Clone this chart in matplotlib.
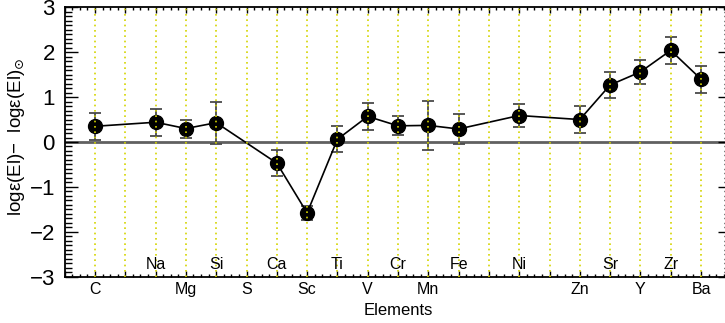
import matplotlib
matplotlib.use("Agg")
import matplotlib.pyplot as plt
import numpy as np

plt.rcParams['font.family'] = ['Liberation Sans', 'DejaVu Sans']
plt.rcParams['mathtext.fontset'] = 'dejavusans'

# Element slots along the x axis (integer positions, some slots left empty)
elements = ["C", "Na", "Mg", "Si", "S", "Ca", "Sc", "Ti", "V", "Cr", "Mn",
            "Fe", "Ni", "Zn", "Sr", "Y", "Zr", "Ba"]
positions = [1, 3, 4, 5, 6, 7, 8, 9, 10, 11, 12, 13, 15, 17, 18, 19, 20, 21]
# Labels drawn inside the frame (upper row) vs. as tick labels (lower row)
upper_row = ["Na", "Si", "Ca", "Ti", "Cr", "Fe", "Ni", "Sr", "Zr"]

# Measured abundance offsets relative to solar; S has no measurement
abund_elements = ["C", "Na", "Mg", "Si", "Ca", "Sc", "Ti", "V", "Cr", "Mn",
                  "Fe", "Ni", "Zn", "Sr", "Y", "Zr", "Ba"]
abundance = [0.35, 0.44, 0.30, 0.43, -0.47, -1.58, 0.06, 0.57, 0.36, 0.37,
             0.29, 0.59, 0.50, 1.27, 1.56, 2.04, 1.40]
error = [0.30, 0.30, 0.20, 0.47, 0.29, 0.16, 0.29, 0.30, 0.21, 0.54,
         0.33, 0.25, 0.30, 0.30, 0.27, 0.30, 0.30]

x_max = 22
y_min, y_max = -3, 3

fig = plt.figure(figsize=(7.25, 3.23), dpi=100)
ax = fig.add_axes([64.7 / 725, 46.3 / 323, 666.6 / 725, 269.4 / 323])
ax.set_xlim(0, x_max)
ax.set_ylim(y_min, y_max)

pos_of = dict(zip(elements, positions))
xs = np.array([pos_of[e] for e in abund_elements], dtype=float)
ys = np.array(abundance)
errs = np.array(error)

# zero reference line
ax.axhline(0, color='#606060', lw=2.0, zorder=1)

# error bars, connecting line and markers
ax.errorbar(xs, ys, yerr=errs, fmt='none', ecolor='#4a4a4a', elinewidth=1.3,
            capsize=4.5, capthick=1.3, zorder=2)
ax.plot(xs, ys, color='black', lw=1.2, zorder=3)
ax.plot(xs, ys, 'o', color='black', ms=10, zorder=4)

# dotted yellow guide lines at every slot, drawn above the markers
for gx in range(1, x_max):
    ax.axvline(gx, color='#d4d400', lw=1.2, ls=(0, (1, 2.2)), zorder=5)

# ticks
ax.set_xticks(np.arange(0, x_max + 1, 1))
ax.set_xticks(np.arange(0, x_max + 0.01, 0.25), minor=True)
lower_labels = {}
for e, p in zip(elements, positions):
    if e not in upper_row:
        lower_labels[p] = e
ax.set_xticklabels([lower_labels.get(int(t), "") for t in np.arange(0, x_max + 1, 1)])

ax.set_yticks(np.arange(y_min, y_max + 1, 1))
ax.set_yticks(np.arange(y_min, y_max + 0.01, 0.1), minor=True)

ax.tick_params(axis='both', which='both', direction='in', top=True, right=True,
               width=1.0, color='black')
ax.tick_params(axis='x', which='major', length=4.5, pad=4, labelsize=11.5)
ax.tick_params(axis='x', which='minor', length=2.5)
ax.tick_params(axis='y', which='major', length=9.5, pad=7, labelsize=16)
ax.tick_params(axis='y', which='minor', length=5)

for sp in ax.spines.values():
    sp.set_linewidth(1.3)

# upper-row element names just above the bottom frame
for e, p in zip(elements, positions):
    if e in upper_row:
        ax.text(p, -2.72, e, ha='center', va='center', fontsize=11.5, zorder=6)

ax.set_xlabel("Elements", fontsize=12, labelpad=4)
ax.set_ylabel("logε(El)−  logε(El)$_{\\odot}$", fontsize=13.5)
ax.yaxis.set_label_coords(-0.056, 0.52)

fig.savefig("out.png", dpi=100)
